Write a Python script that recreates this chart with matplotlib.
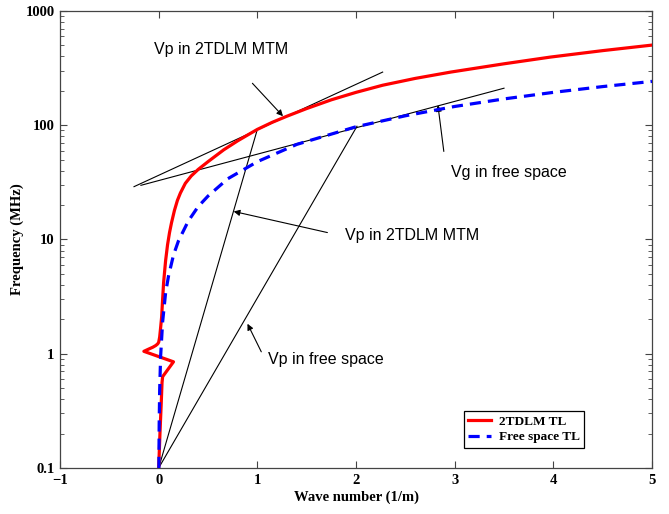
import matplotlib
matplotlib.use("Agg")
import matplotlib.pyplot as plt
from matplotlib.ticker import FixedLocator, LogLocator, NullFormatter, NullLocator

# Dispersion curves (wave number in 1/m, frequency in MHz)
tdlm_k = [0.0, 0.013, 0.027, 0.034, 0.04, 0.15, -0.15, -0.1, -0.06, -0.03, -0.01, 0.0,
          0.01, 0.02, 0.03, 0.04, 0.05, 0.07, 0.09, 0.11, 0.13, 0.16, 0.19, 0.22, 0.27,
          0.33, 0.4, 0.5, 0.66, 0.8, 0.9, 1.0, 1.15, 1.3, 1.5, 1.75, 2.0, 2.27, 2.6,
          2.96, 3.5, 3.97, 4.5, 5.0]
tdlm_f = [0.1, 0.2, 0.39, 0.56, 0.63, 0.85, 1.05, 1.1, 1.14, 1.18, 1.22, 1.26,
          1.4, 1.7, 2.1, 3.0, 4.2, 6.5, 9.0, 11.5, 14, 18, 22, 25.5, 31,
          36, 41, 48, 61, 73, 82, 92, 106, 120, 140, 167, 194, 224, 257,
          292, 345, 395, 450, 503]

free_k = [0.002, 0.005, 0.01, 0.02, 0.04, 0.07, 0.1, 0.15, 0.2, 0.3, 0.4, 0.5, 0.7,
          1.0, 1.4, 2.0, 2.5, 3.0, 3.5, 4.0, 4.5, 5.0]
free_f = [0.1, 0.24, 0.48, 0.96, 1.9, 3.4, 4.8, 7.3, 9.7, 14.5, 19.4, 24, 34,
          48, 68, 97, 121, 146, 170, 194, 218, 242]

# Construction lines: tangents (group velocity) and secants from origin (phase velocity)
tangent_tdlm = ([-0.25, 2.27], [29, 292])
tangent_free = ([-0.18, 3.50], [29.8, 211])
secant_tdlm = ([0.0, 1.0], [0.1, 92])
secant_free = ([0.0, 2.01], [0.1, 98])

# Labels: (text, text position, arrow tail, arrow head)
notes = [
    ("Vp in 2TDLM MTM", (-0.05, 464), (0.95, 233), (1.26, 120)),
    ("Vg in free space", (2.96, 38.7), (2.89, 59), (2.83, 150)),
    ("Vp in 2TDLM MTM", (1.89, 10.8), (1.71, 11.5), (0.76, 17.6)),
    ("Vp in free space", (1.11, 0.886), (1.04, 1.04), (0.90, 1.83)),
]

fig = plt.figure(figsize=(6.69, 5.14), dpi=100)
ax = fig.add_axes([0.0897, 0.0895, 0.8849, 0.8891])

ax.set_yscale("log")
ax.set_xlim(-1, 5)
ax.set_ylim(0.1, 1000)

for xs, ys in (tangent_tdlm, tangent_free, secant_tdlm, secant_free):
    ax.plot(xs, ys, color="black", lw=0.8)

ax.plot(tdlm_k, tdlm_f, color="red", lw=2.3, label="2TDLM TL", zorder=3,
        solid_joinstyle="round")
ax.plot(free_k, free_f, color="blue", lw=2.3, ls=(0, (3.5, 2.2)), label="Free space TL", zorder=4)

for txt, pos, tail, head in notes:
    ax.annotate("", xy=head, xytext=tail,
                arrowprops=dict(arrowstyle="-|>", color="black", lw=0.8,
                                mutation_scale=9, shrinkA=0, shrinkB=0))
    ax.text(pos[0], pos[1], txt, ha="left", va="center", fontsize=11.5,
            family="Liberation Sans")

# Axes styling
serif = dict(family="Liberation Serif", weight="bold")
ax.set_xlabel("Wave number (1/m)", fontsize=10.5, labelpad=3, **serif)
ax.set_ylabel("Frequency (MHz)", fontsize=10.5, labelpad=1, **serif)

ax.xaxis.set_major_locator(FixedLocator([-1, 0, 1, 2, 3, 4, 5]))
ax.xaxis.set_minor_locator(NullLocator())
ax.yaxis.set_major_locator(FixedLocator([0.1, 1, 10, 100, 1000]))
ax.yaxis.set_minor_locator(LogLocator(base=10, subs=range(2, 10)))
ax.yaxis.set_minor_formatter(NullFormatter())
ax.set_yticklabels(["0.1", "1", "10", "100", "1000"])
ax.set_xticklabels(["\u22121", "0", "1", "2", "3", "4", "5"])

ax.tick_params(which="both", direction="in", top=True, right=True, color="#444444")
ax.tick_params(which="major", length=5, width=0.8, pad=4)
ax.tick_params(which="minor", length=3, width=0.6)
for lbl in ax.get_xticklabels() + ax.get_yticklabels():
    lbl.set_fontfamily("Liberation Serif")
    lbl.set_fontweight("bold")
    lbl.set_fontsize(10.5)
for sp in ax.spines.values():
    sp.set_color("#444444")
    sp.set_linewidth(0.9)

leg = ax.legend(loc="lower left", bbox_to_anchor=(0.682, 0.044), fancybox=False,
                edgecolor="black", framealpha=1, handlelength=1.7, handletextpad=0.6,
                borderpad=0.35, labelspacing=0.25, borderaxespad=0,
                prop=dict(family="Liberation Serif", weight="bold", size=9.5))
leg.get_frame().set_linewidth(0.9)

fig.savefig("out.png", dpi=100)
